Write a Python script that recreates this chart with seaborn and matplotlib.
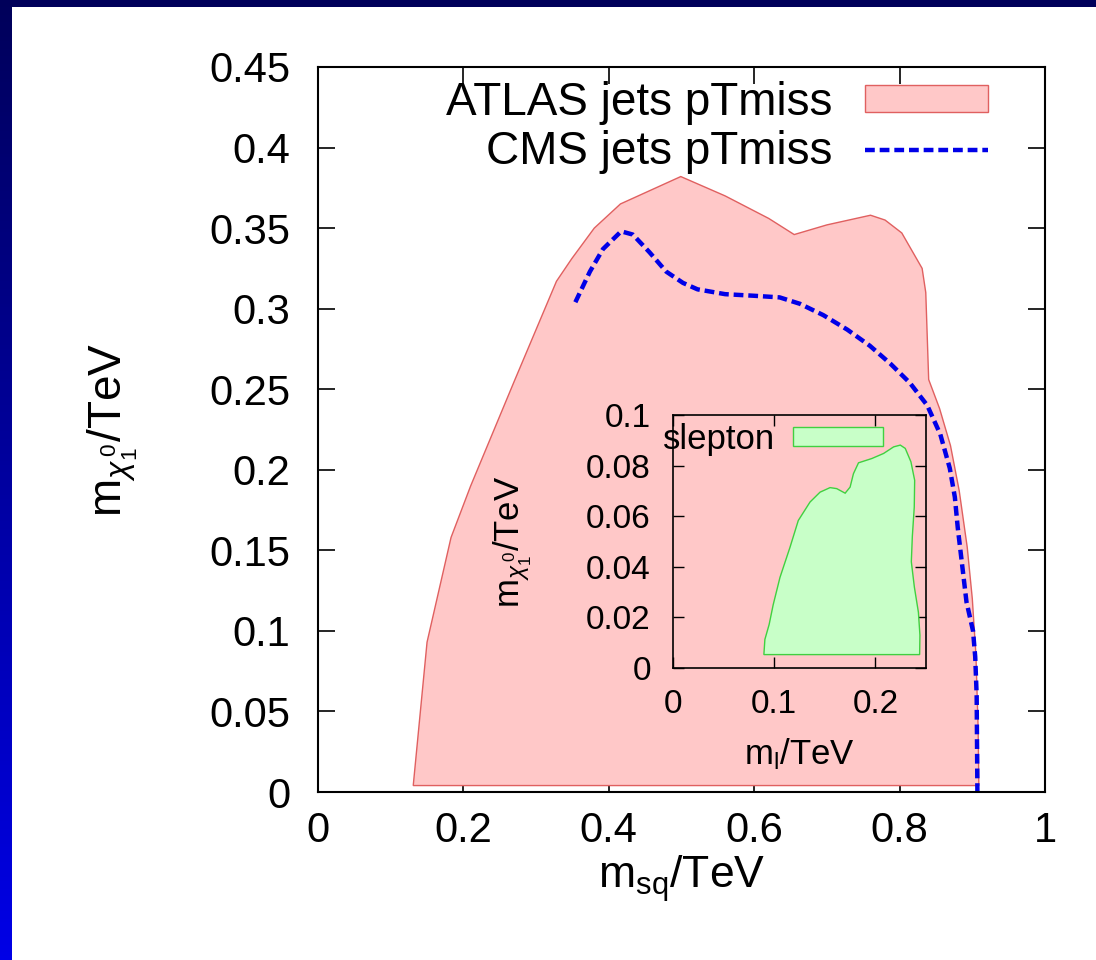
import numpy as np
import pandas as pd
import matplotlib
matplotlib.use("Agg")
import matplotlib.pyplot as plt
import seaborn as sns
from matplotlib.patches import Patch
from matplotlib.lines import Line2D

# ATLAS jets + pTmiss excluded region (closed contour, TeV)
atlas_x = [0.131, 0.150, 0.183, 0.210, 0.270, 0.328, 0.349, 0.380, 0.416, 0.499,
           0.560, 0.620, 0.655, 0.700, 0.760, 0.780, 0.803, 0.831, 0.836, 0.840,
           0.855, 0.870, 0.882, 0.893, 0.900, 0.905, 0.908, 0.909]
atlas_y = [0.004, 0.093, 0.158, 0.190, 0.255, 0.317, 0.331, 0.350, 0.365, 0.382,
           0.370, 0.356, 0.346, 0.352, 0.358, 0.355, 0.347, 0.325, 0.310, 0.256,
           0.238, 0.215, 0.187, 0.152, 0.120, 0.085, 0.040, 0.004]

# CMS jets + pTmiss limit (TeV)
cms_x = [0.354, 0.374, 0.392, 0.417, 0.433, 0.456, 0.479, 0.502, 0.522, 0.560,
         0.600, 0.635, 0.663, 0.695, 0.728, 0.759, 0.787, 0.814, 0.838, 0.856,
         0.869, 0.876, 0.880, 0.886, 0.892, 0.901, 0.904, 0.906, 0.907]
cms_y = [0.304, 0.323, 0.337, 0.348, 0.346, 0.335, 0.323, 0.316, 0.312, 0.309,
         0.308, 0.307, 0.303, 0.296, 0.287, 0.277, 0.266, 0.254, 0.240, 0.222,
         0.201, 0.183, 0.164, 0.141, 0.118, 0.100, 0.084, 0.060, 0.000]

# slepton region for the inset (TeV)
slep_x = [0.0898, 0.0908, 0.0950, 0.0990, 0.1057, 0.1156, 0.1238, 0.1354, 0.1453,
          0.1552, 0.1618, 0.1701, 0.1750, 0.1783, 0.1833, 0.1965, 0.2081, 0.2180,
          0.2246, 0.2295, 0.2351, 0.2388, 0.2384, 0.2365, 0.2355, 0.2385, 0.2425,
          0.2440, 0.2437]
slep_y = [0.0053, 0.0113, 0.0172, 0.0250, 0.0358, 0.0477, 0.0583, 0.0656, 0.0695,
          0.0713, 0.0709, 0.0691, 0.0715, 0.0768, 0.0811, 0.0828, 0.0848, 0.0874,
          0.0881, 0.0868, 0.0815, 0.0742, 0.0636, 0.0520, 0.0420, 0.0320, 0.0220,
          0.0130, 0.0053]

main_xticks = [0, 0.2, 0.4, 0.6, 0.8, 1]
main_xticklabels = ["0", "0.2", "0.4", "0.6", "0.8", "1"]
main_yticks = [0, 0.05, 0.1, 0.15, 0.2, 0.25, 0.3, 0.35, 0.4, 0.45]
main_yticklabels = ["0", "0.05", "0.1", "0.15", "0.2", "0.25", "0.3", "0.35", "0.4", "0.45"]
inset_xticks = [0, 0.1, 0.2]
inset_xticklabels = ["0", "0.1", "0.2"]
inset_yticks = [0, 0.02, 0.04, 0.06, 0.08, 0.1]
inset_yticklabels = ["0", "0.02", "0.04", "0.06", "0.08", "0.1"]

sns.set_theme(style="ticks")
plt.rcParams["font.family"] = ["Liberation Sans", "DejaVu Sans"]
plt.rcParams["mathtext.fontset"] = "custom"
plt.rcParams["mathtext.rm"] = "Liberation Sans"
plt.rcParams["mathtext.it"] = "Liberation Sans:italic"
for key in ["text.color", "axes.labelcolor", "xtick.color", "ytick.color"]:
    plt.rcParams[key] = "black"

pink = "#ffc8c8"
red_edge = "#e06060"
blue = "#0000e8"
green = "#c8ffc8"
green_edge = "#40d040"
dash = (0, (2.2, 1.1))

fig = plt.figure(figsize=(10.96, 9.6), dpi=100)
fig.patch.set_facecolor("white")

# slide frame: navy band on top, navy->blue gradient on the left
top_band = fig.add_axes([0, 1 - 7 / 960, 1, 7 / 960])
top_band.set_facecolor("#00005a")
top_band.set_xticks([]); top_band.set_yticks([])
for s in top_band.spines.values():
    s.set_visible(False)
left_band = fig.add_axes([0, 0, 12 / 1096, 1])
grad = np.linspace(0, 1, 256).reshape(-1, 1)
cmap = matplotlib.colors.LinearSegmentedColormap.from_list("frame", ["#00005a", "#0000e6"])
left_band.imshow(grad, aspect="auto", cmap=cmap, origin="upper")
left_band.axis("off")

# main axes
ax = fig.add_axes([318 / 1096, 1 - 792 / 960, 727 / 1096, 725 / 960])
ax.fill(atlas_x, atlas_y, facecolor=pink, edgecolor=red_edge, linewidth=1.0)
cms = pd.DataFrame({"x": cms_x, "y": cms_y})
sns.lineplot(data=cms, x="x", y="y", ax=ax, color=blue, linewidth=3.2,
             linestyle=dash, sort=False, estimator=None)
ax.set_xlim(0, 1)
ax.set_ylim(0, 0.45)
ax.set_xticks(main_xticks)
ax.set_xticklabels(main_xticklabels)
ax.set_yticks(main_yticks)
ax.set_yticklabels(main_yticklabels)
ax.tick_params(direction="in", top=True, right=True, length=12, width=1.2,
               labelsize=30)
ax.tick_params(axis="x", pad=14)
ax.tick_params(axis="y", pad=20)
for s in ax.spines.values():
    s.set_linewidth(1.5)
    s.set_color("black")
ax.set_xlabel(r"m$_\mathregular{sq}$/TeV", fontsize=32)
ax.set_ylabel(r"m$_{\chi_1^{\,0}}$/TeV", fontsize=33)
ax.xaxis.set_label_coords(0.5, -0.084)
ax.yaxis.set_label_coords(-0.245, 0.5)

handles = [Patch(facecolor=pink, edgecolor=red_edge, linewidth=1.0),
           Line2D([], [], color=blue, linewidth=3.2, linestyle=dash)]
ax.legend(handles, ["ATLAS jets pTmiss", "CMS jets pTmiss"], loc="upper right",
          bbox_to_anchor=(0.922, 0.981), markerfirst=False, frameon=False,
          fontsize=33, handlelength=2.7, handleheight=0.5, labelspacing=0.12,
          handletextpad=0.7, borderaxespad=0.0, borderpad=0.0)

# inset
ins = fig.add_axes([673 / 1096, 1 - 668 / 960, 253 / 1096, 253 / 960])
ins.patch.set_alpha(0)
ins.fill(slep_x, slep_y, facecolor=green, edgecolor=green_edge, linewidth=1.0)
ins.set_xlim(0, 0.25)
ins.set_ylim(0, 0.1)
ins.set_xticks(inset_xticks)
ins.set_xticklabels(inset_xticklabels)
ins.set_yticks(inset_yticks)
ins.set_yticklabels(inset_yticklabels)
ins.tick_params(direction="in", top=True, right=True, length=8, width=1.0,
                labelsize=24)
ins.tick_params(axis="x", pad=15)
ins.tick_params(axis="y", pad=16)
for s in ins.spines.values():
    s.set_linewidth(1.2)
    s.set_color("black")
ins.set_xlabel(r"m$_\mathregular{l}$/TeV", fontsize=25)
ins.set_ylabel(r"m$_{\chi_1^{\,0}}$/TeV", fontsize=25)
ins.xaxis.set_label_coords(0.5, -0.27)
ins.yaxis.set_label_coords(-0.55, 0.5)
ins.legend([Patch(facecolor=green, edgecolor=green_edge, linewidth=1.0)], ["slepton"],
           loc="upper right", bbox_to_anchor=(0.83, 0.97), markerfirst=False,
           frameon=False, fontsize=25, handlelength=2.6, handleheight=0.46,
           handletextpad=0.5, borderaxespad=0.0, borderpad=0.0)

fig.savefig("out.png", dpi=100, facecolor="white")
